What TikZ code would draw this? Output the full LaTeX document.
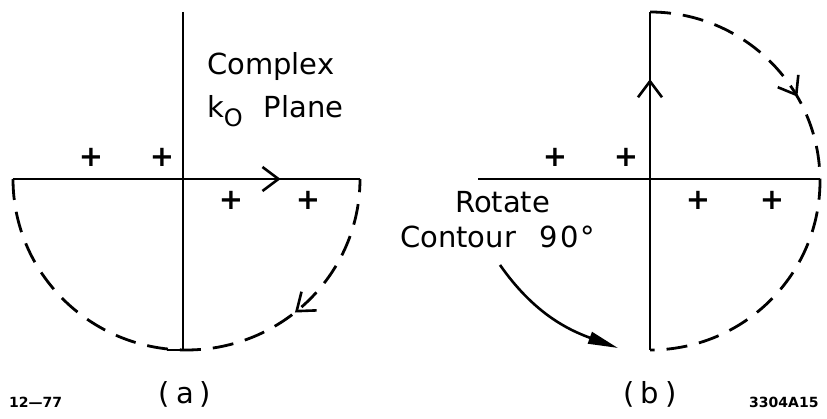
\documentclass[tikz,border=0pt]{standalone}
\usepackage{fontspec}
\setmainfont{DejaVu Sans}
\usetikzlibrary{arrows.meta,decorations.markings}
\tikzset{
  axis/.style={line width=2.8pt},
  contour/.style={line width=2.8pt, dash pattern=on 21pt off 12pt},
  chevfwd/.style={decoration={markings, mark=at position #1 with {\draw[solid, line width=2.6pt, line join=miter] (-16,12) -- (0,0) -- (-16,-12);}}, postaction={decorate}},
  chevrev/.style={decoration={markings, mark=at position #1 with {\draw[solid, line width=2.6pt, line join=miter] (16,12) -- (0,0) -- (16,-12);}}, postaction={decorate}},
  lbl/.style={inner sep=0pt, font=\fontsize{29}{33}\selectfont, anchor=base west},
  small/.style={inner sep=0pt, font=\bfseries\fontsize{14}{16}\selectfont, anchor=base west},
  plus/.style={inner sep=0pt, font=\bfseries\fontsize{29}{30}\selectfont}
}
\begin{document}
\begin{tikzpicture}[x=1pt,y=1pt]
\useasboundingbox (0,0) rectangle (827,419);
% ---------- panel (a) ----------
\coordinate (A) at (183,240);
\coordinate (atop) at (183,407);
\coordinate (abot) at (183,69);
\coordinate (aL) at (13,240);
\coordinate (aR) at (360,240);
\draw[axis] (atop) -- (abot);
\draw[axis] (167,69) -- (200,69);
\draw[axis, chevfwd=0.765] (aL) -- (aR);
\draw[contour, chevrev=0.72]
  (aL) arc[start angle=180, end angle=360, x radius=173.5, y radius=171];
\node[plus] (pa1) at (91,262) {+};
\node[plus] (pa2) at (162,262) {+};
\node[plus] (pa3) at (231,219) {+};
\node[plus] (pa4) at (308,219) {+};
\node[lbl] (cplx) at (207,344) {Complex};
\node[lbl] (plane) at (207,301) {k\raisebox{-9pt}{\fontsize{24}{26}\selectfont O}\hspace{21pt}Plane};
\node[lbl, anchor=base] (la) at (185,15) {(\hspace{6pt}a\hspace{6pt})};
\node[small] (d1) at (9,11) {12—77};
% ---------- panel (b) ----------
\coordinate (B) at (650,240);
\coordinate (btop) at (650,407);
\coordinate (bbot) at (650,69);
\draw[axis, chevfwd=0.795] (bbot) -- (btop);
\draw[axis] (478,240) -- (820,240);
\draw[contour, chevfwd=0.33]
  (btop) arc[start angle=90, end angle=-90, x radius=170, y radius=169];
\node[plus] (pb1) at (555,262) {+};
\node[plus] (pb2) at (626,262) {+};
\node[plus] (pb3) at (698,219) {+};
\node[plus] (pb4) at (772,219) {+};
\node[lbl] (rot) at (455,206) {Rotate};
\node[lbl] (cont) at (400,171) {Contour\hspace{24pt}9\hspace{2pt}0\hspace{2pt}°};
\coordinate (rs) at (500,154);
\coordinate (re) at (618,71);
\draw[line width=2.6pt, -{Triangle[length=30pt,width=12pt]}] (rs) to[out=-55, in=160] (re);
\node[lbl, anchor=base] (lb) at (650,15) {(\hspace{6pt}b\hspace{6pt})};
\node[small] (d2) at (749,11) {3304A15};
\end{tikzpicture}
\end{document}
